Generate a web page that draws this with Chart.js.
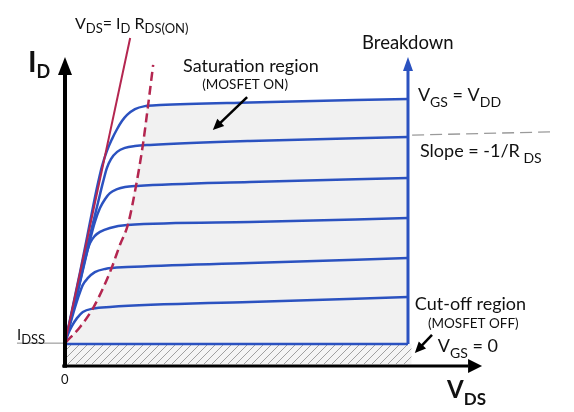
<!DOCTYPE html>
<html><head><meta charset="utf-8">
<script src="https://cdn.jsdelivr.net/npm/chart.js@4"></script>
<style>html,body{margin:0;padding:0;background:#fff}canvas{display:block}</style>
</head><body>
<canvas id="c" width="574" height="412"></canvas>
<script>
// ---- data (VDS, ID in arbitrary units) ----
const curve1Vds = [0, 0.44, 0.73, 0.93, 1.08, 1.22, 1.37, 1.52, 1.66, 1.81, 2.04, 2.33, 2.77, 5.39, 10];
const curve1Id  = [0.86, 3.53, 5.41, 6.69, 7.52, 8.08, 8.53, 8.91, 9.21, 9.44, 9.66, 9.77, 9.81, 9.91, 10.04];
const curve2Vds = [0, 0.44, 0.79, 0.96, 1.11, 1.22, 1.34, 1.52, 1.75, 2.04, 2.48, 5.39, 10];
const curve2Id  = [0.86, 3.35, 5.23, 6.13, 6.92, 7.44, 7.78, 8.05, 8.20, 8.27, 8.31, 8.46, 8.61];
const curve3Vds = [0, 0.44, 0.73, 0.87, 1.02, 1.17, 1.31, 1.52, 1.75, 2.10, 5.39, 10];
const curve3Id  = [0.86, 3.16, 4.74, 5.41, 5.94, 6.28, 6.50, 6.65, 6.73, 6.77, 6.92, 7.07];
const curve4Vds = [0, 0.38, 0.61, 0.73, 0.87, 1.02, 1.31, 1.81, 5.39, 10];
const curve4Id  = [0.86, 2.86, 4.14, 4.62, 4.89, 5.04, 5.19, 5.30, 5.41, 5.56];
const curve5Vds = [0, 0.20, 0.38, 0.52, 0.67, 0.87, 1.17, 1.81, 5.39, 10];
const curve5Id  = [0.86, 1.80, 2.56, 3.05, 3.31, 3.53, 3.65, 3.72, 3.87, 4.06];
const curve6Vds = [0, 0.09, 0.20, 0.35, 0.52, 0.82, 1.31, 5.39, 10];
const curve6Id  = [0.86, 1.20, 1.50, 1.80, 2.03, 2.16, 2.22, 2.41, 2.59];
const cutoffVds = [0, 10];
const cutoffId  = [0.83, 0.83];
// boundary lines
const rdsOnVds = [0, 1.90];
const rdsOnId  = [0.86, 12.33];
const satEdgeVds = [0.03, 0.44, 0.82, 1.11, 1.37, 1.60, 1.84, 2.07, 2.27, 2.42, 2.57];
const satEdgeId  = [0.90, 1.47, 2.18, 2.93, 3.72, 4.55, 5.34, 6.77, 8.31, 9.77, 11.32];
// saturation region (shaded) outline
const satAreaVds = [0.03, 0.03, 0.41, 0.79, 1.08, 1.34, 1.57, 1.81, 2.04, 2.24, 2.39, 2.77, 5.39, 10, 10];
const satAreaId  = [0.83, 0.90, 1.47, 2.18, 2.93, 3.72, 4.55, 5.34, 6.77, 8.31, 9.77, 9.81, 9.91, 10.04, 0.83];
// cut-off region (hatched)
const cutAreaVds = [0, 10.1, 10.1, 0];
const cutAreaId  = [0.83, 0.83, 0.075, 0.075];
// slope guide
const slopeVds = [10.12, 14.14];
const slopeId  = [8.68, 8.80];
// IDSS level
const idssVds = [-1.40, 0];
const idssId  = [0.86, 0.86];
// axes & breakdown
const yAxisVds = [0, 0];
const yAxisId  = [-0.07, 10.94];
const xAxisVds = [-0.08, 11.75];
const xAxisId  = [0, 0];
const bdVds = [10, 10];
const bdId  = [0.83, 11.13];

const X_MIN = -1.895, X_MAX = 14.840, Y_MIN = -1.729, Y_MAX = 13.759;

const zip = (xs, ys) => xs.map((x, i) => ({x, y: ys[i]}));
const BLUE = '#2b52c0', RED = '#b42650', FONT = 'Lato, "Open Sans", sans-serif';

// hatch pattern
const pc = document.createElement('canvas'); pc.width = 8; pc.height = 8;
const p = pc.getContext('2d');
p.fillStyle = '#f4f4f4'; p.fillRect(0, 0, 8, 8);
p.strokeStyle = '#a0a0a0'; p.lineWidth = 1;
p.beginPath(); p.moveTo(0, 8); p.lineTo(8, 0); p.moveTo(-1, 1); p.lineTo(1, -1); p.moveTo(7, 9); p.lineTo(9, 7); p.stroke();
const hatch = document.getElementById('c').getContext('2d').createPattern(pc, 'repeat');

function line(xs, ys, color, width, extra) {
  return Object.assign({data: zip(xs, ys), showLine: true, borderColor: color, borderWidth: width,
    pointRadius: 0, fill: false, tension: 0, order: 1}, extra || {});
}
const curveOpts = {cubicInterpolationMode: 'monotone'};

const datasets = [
  line(satAreaVds, satAreaId, 'rgba(0,0,0,0)', 0, {fill: 'shape', backgroundColor: '#f1f1f1', order: 10}),
  line(cutAreaVds, cutAreaId, 'rgba(0,0,0,0)', 0, {fill: 'shape', backgroundColor: hatch, order: 10}),
  line(idssVds, idssId, '#8a8a8a', 1),
  line(slopeVds, slopeId, '#9a9a9a', 1.3, {borderDash: [12, 6]}),
  line(rdsOnVds, rdsOnId, RED, 2),
  line(satEdgeVds, satEdgeId, RED, 2.5, Object.assign({borderDash: [9, 5]}, curveOpts)),
  line(curve1Vds, curve1Id, BLUE, 2.5, curveOpts),
  line(curve2Vds, curve2Id, BLUE, 2.5, curveOpts),
  line(curve3Vds, curve3Id, BLUE, 2.5, curveOpts),
  line(curve4Vds, curve4Id, BLUE, 2.5, curveOpts),
  line(curve5Vds, curve5Id, BLUE, 2.5, curveOpts),
  line(curve6Vds, curve6Id, BLUE, 2.5, curveOpts),
  line(cutoffVds, cutoffId, BLUE, 2.5),
  line(bdVds, bdId, BLUE, 3),
  line(yAxisVds, yAxisId, '#000', 4, {order: 0}),
  line(xAxisVds, xAxisId, '#000', 3, {order: 0}),
];

// annotations: text labels & arrows
const labels = [
  {x: 0.29, y: 12.67, size: 16, sub: 13, off: 4, runs: [['V'], ['DS', 1], ['= I'], ['D', 1], [' R'], ['DS(ON)', 1]]},
  {x: -1.08, y: 11.05, size: 29, sub: 18, off: 6, bold: true, runs: [['I'], ['D', 1]]},
  {x: 11.14, y: -1.20, size: 24, sub: 17, off: 7, bold: true, runs: [['V'], ['DS', 1]]},
  {x: 3.44, y: 11.05, size: 18, runs: [['Saturation region']]},
  {x: 5.25, y: 10.41, size: 13.5, align: 'center', runs: [['(MOSFET ON)']]},
  {x: 8.66, y: 11.92, size: 18.5, runs: [['Breakdown']]},
  {x: 10.29, y: 9.96, size: 18, sub: 14, off: 6, runs: [['V'], ['GS', 1], [' = V'], ['DD', 1]]},
  {x: 10.35, y: 7.86, size: 18, sub: 14, off: 6, runs: [['Slope = -1/R'], [' DS', 1]]},
  {x: 10.20, y: 2.11, size: 18, runs: [['Cut-off region']]},
  {x: 10.58, y: 1.43, size: 13.5, runs: [['(MOSFET OFF)']]},
  {x: 10.87, y: 0.53, size: 18, sub: 14, off: 6, runs: [['V'], ['GS', 1], [' = 0']]},
  {x: -0.12, y: -0.68, size: 13, runs: [['0']]},
  {x: -1.40, y: 0.98, size: 15, sub: 13, off: 4, runs: [['I'], ['DSS', 1]]},
];
const arrows = [
  {from: [5.31, 10.11], to: [4.31, 8.87], len: 11, half: 5, color: '#000', width: 2.5, shaft: true},
  {from: [10.70, 1.17], to: [10.20, 0.49], len: 11, half: 5, color: '#000', width: 2.5, shaft: true},
  {from: [0, 10.94], to: [0, 11.62], len: 18, half: 7, color: '#000'},
  {from: [11.75, 0], to: [12.16, 0], len: 14, half: 7, color: '#000'},
  {from: [10, 11.13], to: [10, 11.62], len: 14, half: 5, color: BLUE},
];

const annotate = {
  id: 'annotate',
  afterDatasetsDraw(chart) {
    const ctx = chart.ctx, xs = chart.scales.x, ys = chart.scales.y;
    ctx.save();
    arrows.forEach(a => {
      const x1 = xs.getPixelForValue(a.from[0]), y1 = ys.getPixelForValue(a.from[1]);
      const x2 = xs.getPixelForValue(a.to[0]), y2 = ys.getPixelForValue(a.to[1]);
      const d = Math.hypot(x2 - x1, y2 - y1), ux = (x2 - x1) / d, uy = (y2 - y1) / d;
      const bx = x2 - ux * a.len, by = y2 - uy * a.len;
      if (a.shaft) {
        ctx.strokeStyle = a.color; ctx.lineWidth = a.width;
        ctx.beginPath(); ctx.moveTo(x1, y1); ctx.lineTo(bx + ux, by + uy); ctx.stroke();
      }
      ctx.fillStyle = a.color;
      ctx.beginPath(); ctx.moveTo(x2, y2);
      ctx.lineTo(bx - uy * a.half, by + ux * a.half);
      ctx.lineTo(bx + uy * a.half, by - ux * a.half);
      ctx.closePath(); ctx.fill();
    });
    ctx.fillStyle = '#111'; ctx.textBaseline = 'alphabetic';
    labels.forEach(l => {
      const w = l.bold ? 'bold ' : '';
      const fmain = w + l.size + 'px ' + FONT, fsub = w + (l.sub || l.size) + 'px ' + FONT;
      let total = 0;
      l.runs.forEach(r => { ctx.font = r[1] ? fsub : fmain; total += ctx.measureText(r[0]).width; });
      let cx = xs.getPixelForValue(l.x), y = ys.getPixelForValue(l.y);
      if (l.align === 'center') cx -= total / 2;
      ctx.textAlign = 'left';
      l.runs.forEach(r => {
        ctx.font = r[1] ? fsub : fmain;
        ctx.fillText(r[0], cx, y + (r[1] ? l.off : 0));
        cx += ctx.measureText(r[0]).width;
      });
    });
    ctx.restore();
  }
};

new Chart(document.getElementById('c'), {
  type: 'scatter',
  data: {datasets},
  options: {
    responsive: false, animation: false, devicePixelRatio: 1,
    layout: {padding: 0},
    plugins: {legend: {display: false}, tooltip: {enabled: false}},
    scales: {
      x: {type: 'linear', min: X_MIN, max: X_MAX, display: false},
      y: {type: 'linear', min: Y_MIN, max: Y_MAX, display: false}
    }
  },
  plugins: [annotate]
});
</script>
</body></html>
